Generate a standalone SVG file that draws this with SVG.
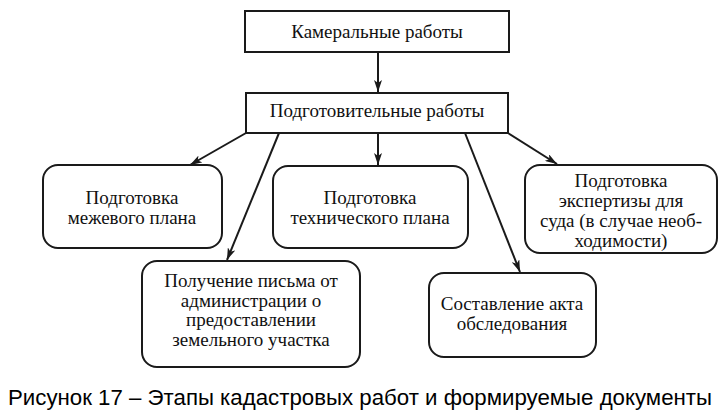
<svg xmlns="http://www.w3.org/2000/svg" width="727" height="419" viewBox="0 0 727 419">
<style>
.box{fill:#fff;stroke:#1a1a1a;stroke-width:2}
.t{font-family:"Times New Roman","Liberation Serif",Tinos,serif;font-size:19px;fill:#111;text-anchor:middle}
.c{stroke:#1a1a1a;stroke-width:2;fill:none;marker-end:url(#ah)}
.cap{font-family:"Liberation Sans",Arial,sans-serif;font-size:22px;fill:#000}
</style>
<defs>
<marker id="ah" viewBox="0 0 12 8" refX="12" refY="4" markerWidth="12" markerHeight="8" markerUnits="userSpaceOnUse" orient="auto">
<path d="M0,0 L12,4 L0,8 L3,4 Z" fill="#1a1a1a"/>
</marker>
</defs>
<rect width="727" height="419" fill="#fff"/>
<g id="connectors">
<line class="c" x1="378" y1="52" x2="378" y2="92"/>
<line class="c" x1="246" y1="133" x2="190" y2="165"/>
<line class="c" x1="279" y1="133" x2="227" y2="260"/>
<line class="c" x1="378" y1="133" x2="378" y2="165"/>
<line class="c" x1="465" y1="133" x2="520" y2="272"/>
<line class="c" x1="508" y1="133" x2="557" y2="164"/>
</g>
<g id="n_kameral">
<rect class="box" x="245" y="11" width="264" height="41"/>
<text class="t" x="377" y="38">Камеральные работы</text>
</g>
<g id="n_podgot">
<rect class="box" x="246" y="93" width="262" height="40"/>
<text class="t" x="377" y="117">Подготовительные работы</text>
</g>
<g id="n_mezh">
<rect class="box" x="43" y="165" width="179" height="83" rx="15"/>
<text class="t" x="132" y="204">Подготовка</text>
<text class="t" x="132" y="224">межевого плана</text>
</g>
<g id="n_pismo">
<rect class="box" x="142" y="261" width="218" height="106" rx="15"/>
<text class="t" x="251" y="287">Получение письма от</text>
<text class="t" x="251" y="307">администрации о</text>
<text class="t" x="251" y="326">предоставлении</text>
<text class="t" x="251" y="346">земельного участка</text>
</g>
<g id="n_tech">
<rect class="box" x="273" y="166" width="195" height="82" rx="15"/>
<text class="t" x="370" y="204">Подготовка</text>
<text class="t" x="370" y="224">технического плана</text>
</g>
<g id="n_akt">
<rect class="box" x="429" y="273" width="167" height="84" rx="15"/>
<text class="t" x="512" y="310">Составление акта</text>
<text class="t" x="512" y="330">обследования</text>
</g>
<g id="n_expert">
<rect class="box" x="525" y="165" width="192" height="88" rx="15"/>
<text class="t" x="621" y="187">Подготовка</text>
<text class="t" x="621" y="207">экспертизы для</text>
<text class="t" x="621" y="227">суда (в случае необ-</text>
<text class="t" x="621" y="247">ходимости)</text>
</g>
<text class="cap" x="8" y="405" textLength="704" lengthAdjust="spacingAndGlyphs">Рисунок 17 – Этапы кадастровых работ и формируемые документы</text>
</svg>
